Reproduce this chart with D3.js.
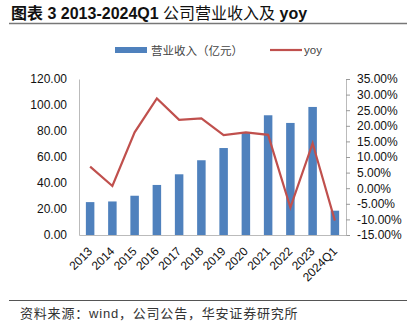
<!DOCTYPE html>
<html><head><meta charset="utf-8">
<script src="https://cdn.jsdelivr.net/npm/d3@7"></script>
<style>body{margin:0;background:#fff;}svg{display:block;}</style>
</head><body>
<svg id="c" width="407" height="326"></svg>
<script>
const categories = ["2013","2014","2015","2016","2017","2018","2019","2020","2021","2022","2023","2024Q1"];
const revenue = [25.3, 25.8, 30.2, 38.5, 46.7, 57.5, 66.9, 79.0, 92.1, 86.2, 98.5, 18.7];
const yoy = [6.9, 0.7, 17.9, 28.8, 21.9, 22.4, 17.0, 17.9, 17.1, -6.2, 14.4, -10.4];
const leftTicks = [0, 20, 40, 60, 80, 100, 120];
const rightTicks = [-15, -10, -5, 0, 5, 10, 15, 20, 25, 30, 35];
const titleParts = [["图表", "bold"], [" 3 2013-2024Q1 ", "bold"], ["公司营业收入及", "normal"], [" yoy", "bold"]];
const legendLabels = ["营业收入（亿元）", "yoy"];
const source = "资料来源：wind，公司公告，华安证券研究所";

const svg = d3.select("#c");
const font = "'Liberation Sans', Arial, 'Noto Sans CJK SC', sans-serif";
const cjk = "'Noto Sans CJK SC', sans-serif";
const mixed = "'Liberation Sans', 'Noto Sans CJK SC', sans-serif";
const L = 79, R = 346, T = 79, B = 235;

const x = d3.scaleBand().domain(categories).range([L, R]);
const yL = d3.scaleLinear().domain([0, 120]).range([B, T]);
const yR = d3.scaleLinear().domain([-15, 35]).range([B, T]);

// title
const tt = svg.append("text").attr("x", 11).attr("y", 19)
  .attr("font-family", mixed).attr("font-size", 16).attr("fill", "#111");
titleParts.forEach(([t, w]) => tt.append("tspan").attr("font-weight", w).text(t));
svg.append("line").attr("x1", 9).attr("x2", 407).attr("y1", 23.5).attr("y2", 23.5)
  .attr("stroke", "#777").attr("stroke-width", 1.5);

// legend
svg.append("rect").attr("x", 115).attr("y", 47).attr("width", 32).attr("height", 6).attr("fill", "#4F81BD");
svg.append("text").attr("x", 151).attr("y", 55).text(legendLabels[0])
  .attr("font-family", cjk).attr("font-size", 11.5).attr("fill", "#444");
svg.append("line").attr("x1", 270).attr("x2", 302).attr("y1", 50).attr("y2", 50)
  .attr("stroke", "#C0504D").attr("stroke-width", 2.2);
svg.append("text").attr("x", 304).attr("y", 54).text(legendLabels[1])
  .attr("font-family", font).attr("font-size", 11.5).attr("fill", "#444");

// bars
const bw = 8.5;
svg.append("g").selectAll("rect").data(categories).join("rect")
  .attr("x", (d) => x(d) + x.bandwidth() / 2 - bw / 2)
  .attr("width", bw)
  .attr("y", (d, i) => yL(revenue[i]))
  .attr("height", (d, i) => yL(0) - yL(revenue[i]))
  .attr("fill", "#4F81BD");

// axes
const gl = svg.append("g").attr("transform", `translate(${L},0)`)
  .call(d3.axisLeft(yL).tickValues(leftTicks).tickSize(0).tickPadding(12).tickFormat(d3.format(".2f")));
const gr = svg.append("g").attr("transform", `translate(${R},0)`)
  .call(d3.axisRight(yR).tickValues(rightTicks).tickSize(4).tickPadding(7).tickFormat((d) => d.toFixed(2) + "%"));
const gb = svg.append("g").attr("transform", `translate(0,${B})`)
  .call(d3.axisBottom(x).tickSize(0).tickPadding(0));
[gl, gr, gb].forEach((g) => {
  g.select(".domain").attr("stroke", "#bbb");
  g.selectAll(".tick line").attr("stroke", "#999");
  g.selectAll("text").attr("font-family", font).attr("font-size", 12).attr("fill", "#111");
});
gb.selectAll("text").attr("text-anchor", "end").attr("x", 0).attr("y", 0)
  .attr("dy", "0.35em").attr("transform", "translate(0,14) rotate(-45)");

// yoy line
svg.append("path").datum(yoy)
  .attr("d", d3.line().x((d, i) => x(categories[i]) + x.bandwidth() / 2).y((d) => yR(d)))
  .attr("fill", "none").attr("stroke", "#C0504D").attr("stroke-width", 2.2);

// footer
svg.append("line").attr("x1", 9).attr("x2", 407).attr("y1", 300.5).attr("y2", 300.5)
  .attr("stroke", "#555").attr("stroke-width", 1);
svg.append("text").attr("x", 20).attr("y", 318).text(source)
  .attr("font-family", mixed).attr("font-size", 13).attr("letter-spacing", 0.8).attr("fill", "#333");
</script>
</body></html>
